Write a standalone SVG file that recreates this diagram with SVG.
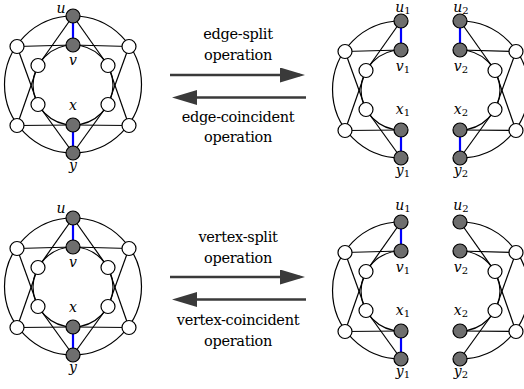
<svg xmlns="http://www.w3.org/2000/svg" width="524" height="389" viewBox="0 0 524 389">
<style>
.e{stroke:#000;stroke-width:1.2;fill:none}
.b{stroke:#0000ff;stroke-width:2.2;fill:none}
.w{fill:#fff;stroke:#000;stroke-width:1.2}
.g{fill:#6e6e6e;stroke:#000;stroke-width:1.2}
.lb{font-family:'DejaVu Serif',serif;font-style:italic;font-size:14px;text-anchor:middle;fill:#000}
.sb{font-style:normal;font-size:10px}
.op{font-family:'DejaVu Serif',serif;font-size:14.5px;letter-spacing:-0.3px;text-anchor:middle;fill:#000}
.ar{stroke:#3a3a3a;stroke-width:2.5;fill:none}
</style>
<defs>
<marker id="ah" markerUnits="userSpaceOnUse" markerWidth="26" markerHeight="16" refX="20" refY="7.5" orient="auto">
<path d="M0,0 L25,7.5 L0,15 Z" fill="#3a3a3a"/>
</marker>
</defs>

<!-- Graph 1: top-left original -->
<g id="graph1">
<g id="g1-edges">
<circle class="e" cx="73" cy="84.5" r="68.5"/>
<circle class="e" cx="73" cy="85" r="40"/>
<line class="e" x1="17" y1="46.5" x2="73" y2="45"/>
<line class="e" x1="129" y1="46.5" x2="73" y2="45"/>
<line class="e" x1="17" y1="125.5" x2="73" y2="125"/>
<line class="e" x1="129" y1="125.5" x2="73" y2="125"/>
<line class="e" x1="73" y1="16" x2="38" y2="65.5"/>
<line class="e" x1="73" y1="16" x2="108" y2="65.5"/>
<line class="e" x1="73" y1="153" x2="38" y2="104.5"/>
<line class="e" x1="73" y1="153" x2="108" y2="104.5"/>
<line class="e" x1="17" y1="46.5" x2="38" y2="104.5"/>
<line class="e" x1="17" y1="125.5" x2="38" y2="65.5"/>
<line class="e" x1="129" y1="46.5" x2="108" y2="104.5"/>
<line class="e" x1="129" y1="125.5" x2="108" y2="65.5"/>
<line class="b" x1="73" y1="16" x2="73" y2="45"/>
<line class="b" x1="73" y1="125" x2="73" y2="153"/>
</g>
<g id="g1-u"><circle class="g" cx="73" cy="16" r="7"/><text class="lb" x="61" y="13">u</text></g>
<g id="g1-v"><circle class="g" cx="73" cy="45" r="7"/><text class="lb" x="73" y="65">v</text></g>
<g id="g1-x"><circle class="g" cx="73" cy="125" r="7"/><text class="lb" x="73" y="110">x</text></g>
<g id="g1-y"><circle class="g" cx="73" cy="153" r="7"/><text class="lb" x="73" y="170">y</text></g>
<g id="g1-o1"><circle class="w" cx="17" cy="46.5" r="7"/></g>
<g id="g1-o2"><circle class="w" cx="129" cy="46.5" r="7"/></g>
<g id="g1-o3"><circle class="w" cx="17" cy="125.5" r="7"/></g>
<g id="g1-o4"><circle class="w" cx="129" cy="125.5" r="7"/></g>
<g id="g1-i1"><circle class="w" cx="38" cy="65.5" r="7"/></g>
<g id="g1-i2"><circle class="w" cx="108" cy="65.5" r="7"/></g>
<g id="g1-i3"><circle class="w" cx="38" cy="104.5" r="7"/></g>
<g id="g1-i4"><circle class="w" cx="108" cy="104.5" r="7"/></g>
</g>

<!-- Graph 2: top-right, edge-split -->
<g id="graph2L" transform="translate(328,5)">
<g id="g2L-edges">
<path class="e" d="M73,16 A68.5,68.5 0 0 0 73,153"/>
<path class="e" d="M73,45 A40,40 0 0 0 73,125"/>
<line class="e" x1="17" y1="46.5" x2="73" y2="45"/>
<line class="e" x1="17" y1="125.5" x2="73" y2="125"/>
<line class="e" x1="73" y1="16" x2="38" y2="65.5"/>
<line class="e" x1="73" y1="153" x2="38" y2="104.5"/>
<line class="e" x1="17" y1="46.5" x2="38" y2="104.5"/>
<line class="e" x1="17" y1="125.5" x2="38" y2="65.5"/>
<line class="b" x1="73" y1="16" x2="73" y2="45"/>
<line class="b" x1="73" y1="125" x2="73" y2="153"/>
</g>
<g id="g2-u1"><circle class="g" cx="73" cy="16" r="7"/><text class="lb" x="75" y="7">u<tspan class="sb" dy="2">1</tspan></text></g>
<g id="g2-v1"><circle class="g" cx="73" cy="45" r="7"/><text class="lb" x="75" y="66">v<tspan class="sb" dy="2">1</tspan></text></g>
<g id="g2-x1"><circle class="g" cx="73" cy="125" r="7"/><text class="lb" x="75" y="109">x<tspan class="sb" dy="2">1</tspan></text></g>
<g id="g2-y1"><circle class="g" cx="73" cy="153" r="7"/><text class="lb" x="75" y="170">y<tspan class="sb" dy="2">1</tspan></text></g>
<g id="g2-o1"><circle class="w" cx="17" cy="46.5" r="7"/></g>
<g id="g2-o3"><circle class="w" cx="17" cy="125.5" r="7"/></g>
<g id="g2-i1"><circle class="w" cx="38" cy="65.5" r="7"/></g>
<g id="g2-i3"><circle class="w" cx="38" cy="104.5" r="7"/></g>
</g>
<g id="graph2R" transform="translate(387,5)">
<g id="g2R-edges">
<path class="e" d="M73,16 A68.5,68.5 0 0 1 73,153"/>
<path class="e" d="M73,45 A40,40 0 0 1 73,125"/>
<line class="e" x1="129" y1="46.5" x2="73" y2="45"/>
<line class="e" x1="129" y1="125.5" x2="73" y2="125"/>
<line class="e" x1="73" y1="16" x2="108" y2="65.5"/>
<line class="e" x1="73" y1="153" x2="108" y2="104.5"/>
<line class="e" x1="129" y1="46.5" x2="108" y2="104.5"/>
<line class="e" x1="129" y1="125.5" x2="108" y2="65.5"/>
<line class="b" x1="73" y1="16" x2="73" y2="45"/>
<line class="b" x1="73" y1="125" x2="73" y2="153"/>
</g>
<g id="g2-u2"><circle class="g" cx="73" cy="16" r="7"/><text class="lb" x="74" y="7">u<tspan class="sb" dy="2">2</tspan></text></g>
<g id="g2-v2"><circle class="g" cx="73" cy="45" r="7"/><text class="lb" x="74" y="66">v<tspan class="sb" dy="2">2</tspan></text></g>
<g id="g2-x2"><circle class="g" cx="73" cy="125" r="7"/><text class="lb" x="74" y="109">x<tspan class="sb" dy="2">2</tspan></text></g>
<g id="g2-y2"><circle class="g" cx="73" cy="153" r="7"/><text class="lb" x="74" y="170">y<tspan class="sb" dy="2">2</tspan></text></g>
<g id="g2-o2"><circle class="w" cx="129" cy="46.5" r="7"/></g>
<g id="g2-o4"><circle class="w" cx="129" cy="125.5" r="7"/></g>
<g id="g2-i2"><circle class="w" cx="108" cy="65.5" r="7"/></g>
<g id="g2-i4"><circle class="w" cx="108" cy="104.5" r="7"/></g>
</g>

<!-- Graph 3: bottom-left original -->
<g id="graph3" transform="translate(0,202)">
<g id="g3-edges">
<circle class="e" cx="73" cy="84.5" r="68.5"/>
<circle class="e" cx="73" cy="85" r="40"/>
<line class="e" x1="17" y1="46.5" x2="73" y2="45"/>
<line class="e" x1="129" y1="46.5" x2="73" y2="45"/>
<line class="e" x1="17" y1="125.5" x2="73" y2="125"/>
<line class="e" x1="129" y1="125.5" x2="73" y2="125"/>
<line class="e" x1="73" y1="16" x2="38" y2="65.5"/>
<line class="e" x1="73" y1="16" x2="108" y2="65.5"/>
<line class="e" x1="73" y1="153" x2="38" y2="104.5"/>
<line class="e" x1="73" y1="153" x2="108" y2="104.5"/>
<line class="e" x1="17" y1="46.5" x2="38" y2="104.5"/>
<line class="e" x1="17" y1="125.5" x2="38" y2="65.5"/>
<line class="e" x1="129" y1="46.5" x2="108" y2="104.5"/>
<line class="e" x1="129" y1="125.5" x2="108" y2="65.5"/>
<line class="b" x1="73" y1="16" x2="73" y2="45"/>
<line class="b" x1="73" y1="125" x2="73" y2="153"/>
</g>
<g id="g3-u"><circle class="g" cx="73" cy="16" r="7"/><text class="lb" x="61" y="11">u</text></g>
<g id="g3-v"><circle class="g" cx="73" cy="45" r="7"/><text class="lb" x="73" y="65">v</text></g>
<g id="g3-x"><circle class="g" cx="73" cy="125" r="7"/><text class="lb" x="73" y="110">x</text></g>
<g id="g3-y"><circle class="g" cx="73" cy="153" r="7"/><text class="lb" x="73" y="170">y</text></g>
<g id="g3-o1"><circle class="w" cx="17" cy="46.5" r="7"/></g>
<g id="g3-o2"><circle class="w" cx="129" cy="46.5" r="7"/></g>
<g id="g3-o3"><circle class="w" cx="17" cy="125.5" r="7"/></g>
<g id="g3-o4"><circle class="w" cx="129" cy="125.5" r="7"/></g>
<g id="g3-i1"><circle class="w" cx="38" cy="65.5" r="7"/></g>
<g id="g3-i2"><circle class="w" cx="108" cy="65.5" r="7"/></g>
<g id="g3-i3"><circle class="w" cx="38" cy="104.5" r="7"/></g>
<g id="g3-i4"><circle class="w" cx="108" cy="104.5" r="7"/></g>
</g>

<!-- Graph 4: bottom-right, vertex-split -->
<g id="graph4L" transform="translate(328,206)">
<g id="g4L-edges">
<path class="e" d="M73,16 A68.5,68.5 0 0 0 73,153"/>
<path class="e" d="M73,45 A40,40 0 0 0 73,125"/>
<line class="e" x1="17" y1="46.5" x2="73" y2="45"/>
<line class="e" x1="17" y1="125.5" x2="73" y2="125"/>
<line class="e" x1="73" y1="16" x2="38" y2="65.5"/>
<line class="e" x1="73" y1="153" x2="38" y2="104.5"/>
<line class="e" x1="17" y1="46.5" x2="38" y2="104.5"/>
<line class="e" x1="17" y1="125.5" x2="38" y2="65.5"/>
<line class="b" x1="73" y1="16" x2="73" y2="45"/>
<line class="b" x1="73" y1="125" x2="73" y2="153"/>
</g>
<g id="g4-u1"><circle class="g" cx="73" cy="16" r="7"/><text class="lb" x="75" y="4">u<tspan class="sb" dy="2">1</tspan></text></g>
<g id="g4-v1"><circle class="g" cx="73" cy="45" r="7"/><text class="lb" x="75" y="66">v<tspan class="sb" dy="2">1</tspan></text></g>
<g id="g4-x1"><circle class="g" cx="73" cy="125" r="7"/><text class="lb" x="75" y="109">x<tspan class="sb" dy="2">1</tspan></text></g>
<g id="g4-y1"><circle class="g" cx="73" cy="153" r="7"/><text class="lb" x="75" y="170">y<tspan class="sb" dy="2">1</tspan></text></g>
<g id="g4-o1"><circle class="w" cx="17" cy="46.5" r="7"/></g>
<g id="g4-o3"><circle class="w" cx="17" cy="125.5" r="7"/></g>
<g id="g4-i1"><circle class="w" cx="38" cy="65.5" r="7"/></g>
<g id="g4-i3"><circle class="w" cx="38" cy="104.5" r="7"/></g>
</g>
<g id="graph4R" transform="translate(387,206)">
<g id="g4R-edges">
<path class="e" d="M73,16 A68.5,68.5 0 0 1 73,153"/>
<path class="e" d="M73,45 A40,40 0 0 1 73,125"/>
<line class="e" x1="129" y1="46.5" x2="73" y2="45"/>
<line class="e" x1="129" y1="125.5" x2="73" y2="125"/>
<line class="e" x1="73" y1="16" x2="108" y2="65.5"/>
<line class="e" x1="73" y1="153" x2="108" y2="104.5"/>
<line class="e" x1="129" y1="46.5" x2="108" y2="104.5"/>
<line class="e" x1="129" y1="125.5" x2="108" y2="65.5"/>
</g>
<g id="g4-u2"><circle class="g" cx="73" cy="16" r="7"/><text class="lb" x="74" y="4">u<tspan class="sb" dy="2">2</tspan></text></g>
<g id="g4-v2"><circle class="g" cx="73" cy="45" r="7"/><text class="lb" x="74" y="66">v<tspan class="sb" dy="2">2</tspan></text></g>
<g id="g4-x2"><circle class="g" cx="73" cy="125" r="7"/><text class="lb" x="74" y="109">x<tspan class="sb" dy="2">2</tspan></text></g>
<g id="g4-y2"><circle class="g" cx="73" cy="153" r="7"/><text class="lb" x="74" y="170">y<tspan class="sb" dy="2">2</tspan></text></g>
<g id="g4-o2"><circle class="w" cx="129" cy="46.5" r="7"/></g>
<g id="g4-o4"><circle class="w" cx="129" cy="125.5" r="7"/></g>
<g id="g4-i2"><circle class="w" cx="108" cy="65.5" r="7"/></g>
<g id="g4-i4"><circle class="w" cx="108" cy="104.5" r="7"/></g>
</g>

<!-- Operation arrows and labels -->
<g id="arrows">
<line class="ar" x1="170" y1="75" x2="300" y2="75" marker-end="url(#ah)"/>
<line class="ar" x1="306" y1="97.5" x2="177" y2="97.5" marker-end="url(#ah)"/>
<line class="ar" x1="170" y1="277" x2="300" y2="277" marker-end="url(#ah)"/>
<line class="ar" x1="306" y1="299.5" x2="177" y2="299.5" marker-end="url(#ah)"/>
</g>
<g id="op-labels">
<text class="op" x="238" y="39">edge-split</text>
<text class="op" x="238" y="60">operation</text>
<text class="op" x="238" y="122">edge-coincident</text>
<text class="op" x="238" y="142">operation</text>
<text class="op" x="238" y="242">vertex-split</text>
<text class="op" x="238" y="263">operation</text>
<text class="op" x="238" y="325">vertex-coincident</text>
<text class="op" x="238" y="346">operation</text>
</g>
</svg>
